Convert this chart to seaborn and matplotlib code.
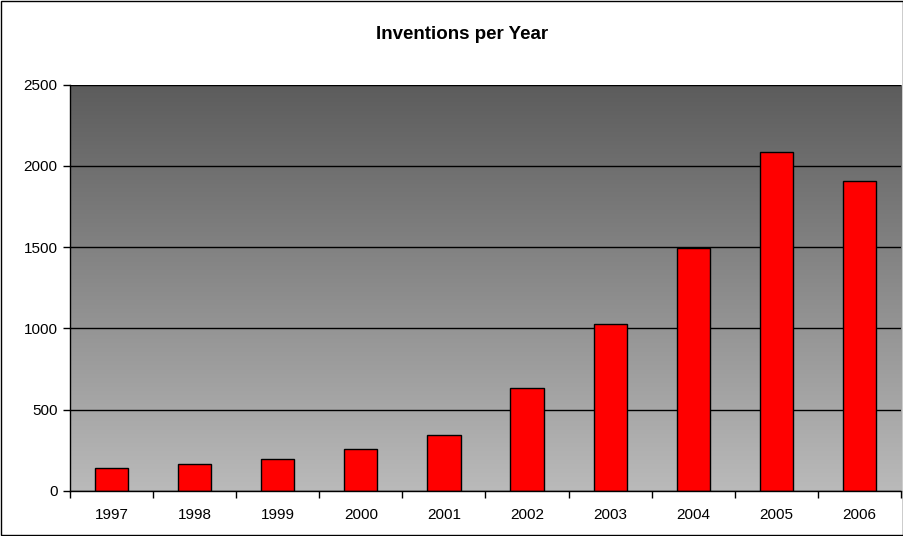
import numpy as np
import pandas as pd
import matplotlib
matplotlib.use("Agg")
import matplotlib.pyplot as plt
import seaborn as sns
from matplotlib.colors import LinearSegmentedColormap
from matplotlib.patches import Rectangle

# Data
years = ["1997", "1998", "1999", "2000", "2001",
         "2002", "2003", "2004", "2005", "2006"]
inventions = [141, 166, 194, 258, 347, 632, 1030, 1498, 2088, 1906]

data = pd.DataFrame({"Year": years, "Inventions": inventions})

sns.set_style("white")
plt.rcParams["font.family"] = ["Liberation Sans", "DejaVu Sans"]
plt.rcParams["text.color"] = "black"
plt.rcParams["xtick.color"] = "black"
plt.rcParams["ytick.color"] = "black"

fig = plt.figure(figsize=(9.04, 5.36), dpi=100)
ax = fig.add_axes([0.0774, 0.0840, 0.9193, 0.758])

# gray gradient background, dark at top
grad = np.linspace(1, 0, 256).reshape(-1, 1)
cmap = LinearSegmentedColormap.from_list("bg", ["#bababa", "#5c5c5c"])
ax.imshow(grad, extent=[0, 1, 0, 1], transform=ax.transAxes,
          aspect="auto", cmap=cmap, vmin=0, vmax=1, zorder=0)

sns.barplot(data=data, x="Year", y="Inventions", color="#ff0000",
            edgecolor="black", linewidth=1, width=0.4, saturation=1,
            ax=ax, zorder=2)

ax.set_xlim(-0.5, len(years) - 0.5)
ax.set_ylim(0, 2500)
ax.set_yticks(np.arange(0, 2501, 500))
ax.yaxis.grid(True, color="black", linewidth=1, zorder=1)
ax.set_axisbelow(True)

# x ticks between categories
ax.set_xticks(np.arange(-0.5, len(years)), minor=True)
ax.tick_params(axis="x", which="major", length=0, pad=12, labelsize=11,
               labelcolor="black")
ax.tick_params(axis="x", which="minor", length=5, width=1, color="black",
               direction="out", bottom=True)
ax.tick_params(axis="y", length=5, width=1, color="black", direction="out",
               left=True, pad=4, labelsize=11, labelcolor="black")

ax.set_xlabel("")
ax.set_ylabel("")

for side in ["top", "right"]:
    ax.spines[side].set_visible(False)
for side in ["left", "bottom"]:
    ax.spines[side].set_color("black")
    ax.spines[side].set_linewidth(1)

fig.text(0.511, 0.936, "Inventions per Year", ha="center", va="center",
         fontsize=13.5, fontweight="bold", color="black")

# outer border of the chart area
fig.patches.append(Rectangle((0.0015, 0.0015), 0.997, 0.997,
                             transform=fig.transFigure, fill=False,
                             edgecolor="black", linewidth=1))

fig.savefig("out.png", dpi=100)
